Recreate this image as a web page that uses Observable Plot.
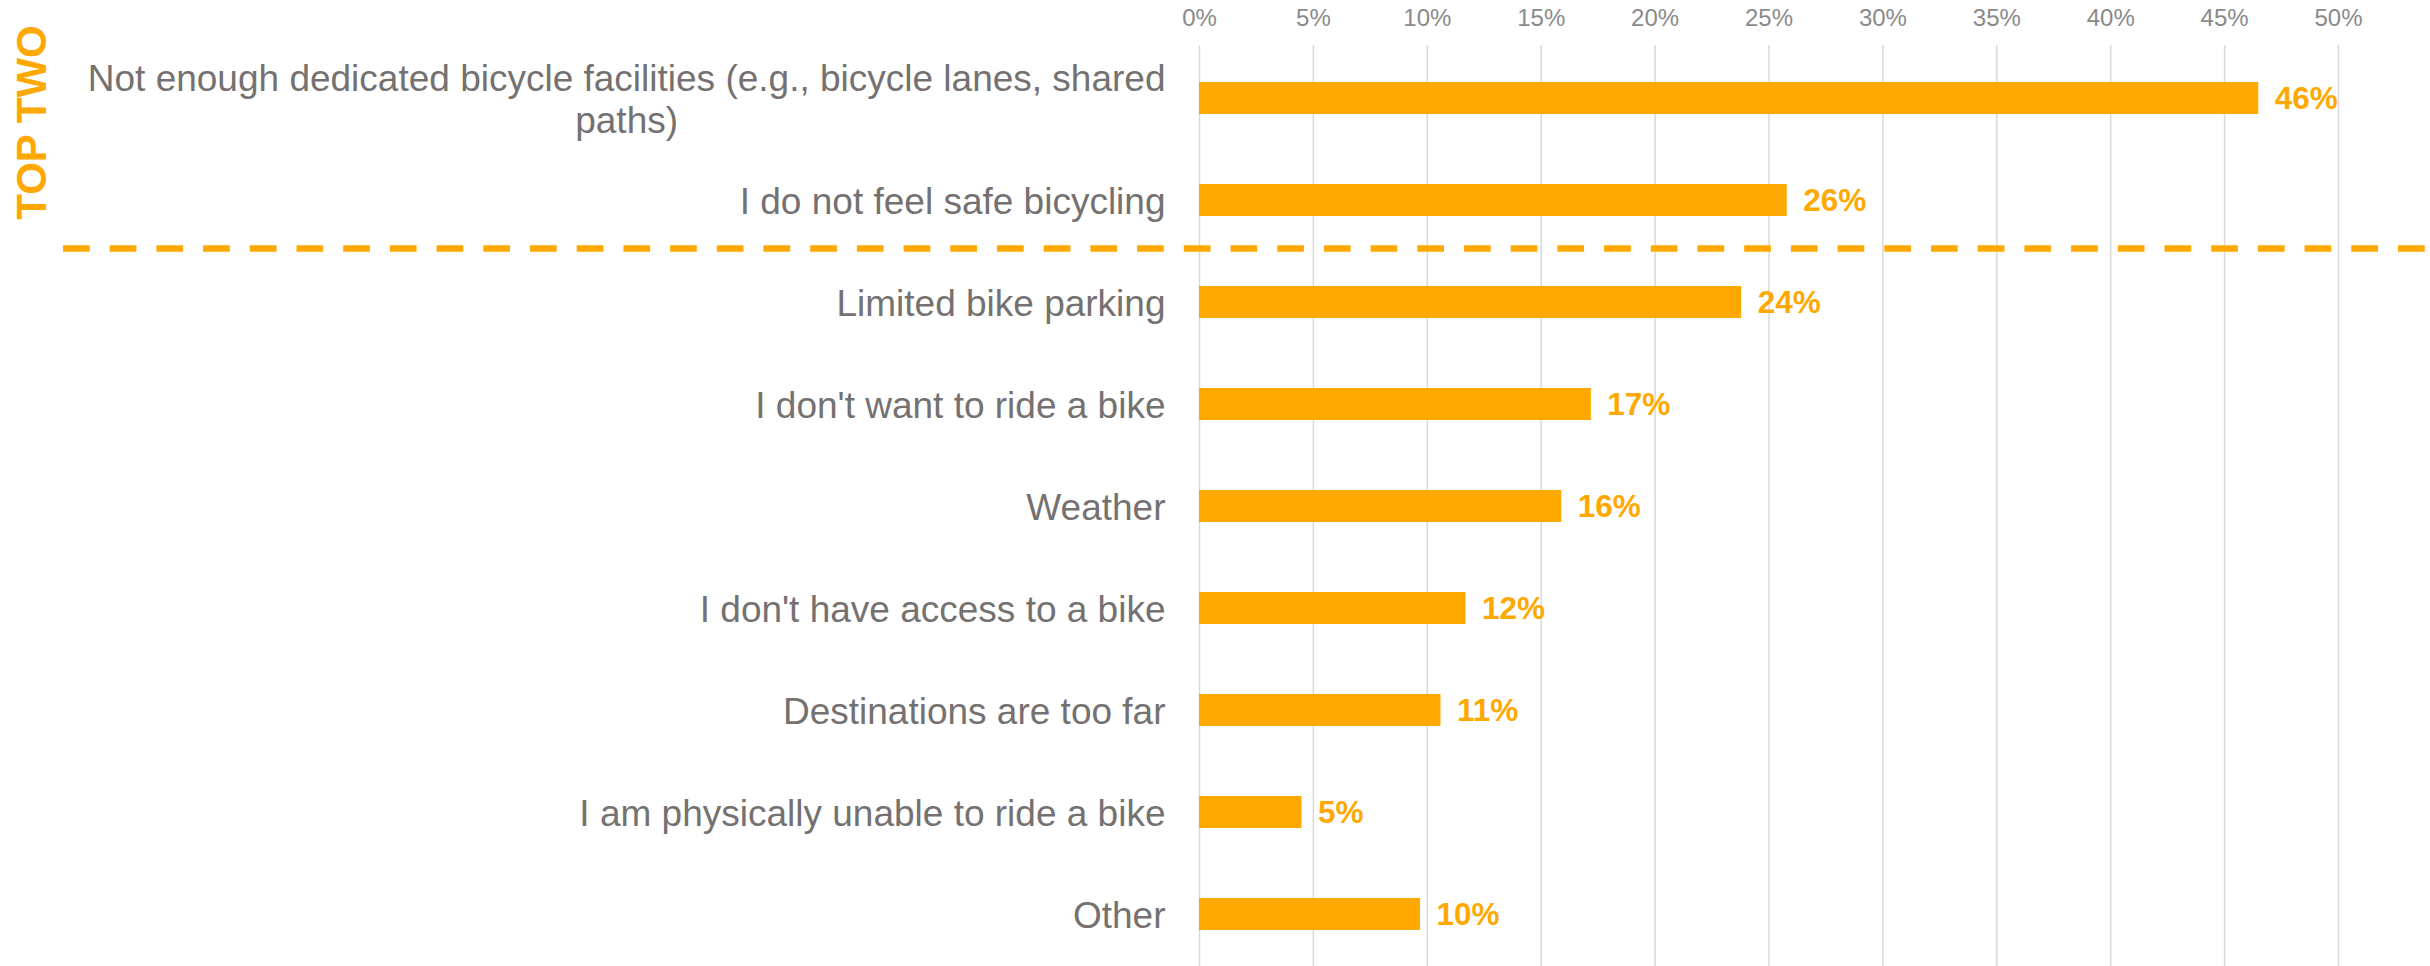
<!DOCTYPE html>
<html><head><meta charset="utf-8">
<script src="https://cdn.jsdelivr.net/npm/d3@7"></script>
<script src="https://cdn.jsdelivr.net/npm/@observablehq/plot@0.6"></script>
<style>body{margin:0;background:#fff;overflow:hidden;}</style>
</head><body><div id="chart"></div>
<script>
const categories = [
  "Not enough dedicated bicycle facilities (e.g., bicycle lanes, shared paths)",
  "I do not feel safe bicycling",
  "Limited bike parking",
  "I don't want to ride a bike",
  "Weather",
  "I don't have access to a bike",
  "Destinations are too far",
  "I am physically unable to ride a bike",
  "Other"
];
const categoryLines = {
  "Not enough dedicated bicycle facilities (e.g., bicycle lanes, shared paths)":
    "Not enough dedicated bicycle facilities (e.g., bicycle lanes, shared\npaths)"
};
const values = [46.5, 25.8, 23.8, 17.2, 15.9, 11.7, 10.6, 4.5, 9.7];
const valueLabels = ["46%", "26%", "24%", "17%", "16%", "12%", "11%", "5%", "10%"];
const xTicks = [0, 5, 10, 15, 20, 25, 30, 35, 40, 45, 50];
const groupLabel = "TOP TWO";
const groupSize = 2;

const data = categories.map((c, i) => ({category: c, value: values[i], label: valueLabels[i]}));

const W = 2430, H = 966, mt = 45, mb = 0, ml = 1199, mr = 92;
const padIn = 0.6875, padOut = 0.35;
const step = (H - mt - mb) / (categories.length - padIn + 2 * padOut);
const orange = "#ffa900";

const chart = Plot.plot({
  width: W, height: H,
  marginTop: mt, marginBottom: mb, marginLeft: ml, marginRight: mr,
  style: {fontFamily: "'Liberation Sans', Arial, sans-serif", background: "#fff"},
  x: {domain: [0, 50]},
  y: {domain: categories, paddingInner: padIn, paddingOuter: padOut},
  marks: [
    Plot.gridX(xTicks, {stroke: "#d9d9d9", strokeOpacity: 1, strokeWidth: 1.5}),
    Plot.axisX(xTicks, {anchor: "top", tickSize: 0, tickPadding: 20, fontSize: 24, color: "#8a8a8a",
      tickFormat: d => d + "%", label: null}),
    Plot.axisY({tickSize: 0, tickPadding: 34, fontSize: 37, color: "#757171", label: null,
      lineHeight: 1.15, tickFormat: d => categoryLines[d] || d}),
    Plot.barX(data, {x: "value", y: "category", fill: orange}),
    Plot.text(data, {x: "value", y: "category", text: "label", textAnchor: "start", dx: 16,
      fontSize: 31.5, fontWeight: "bold", fill: orange}),
    Plot.ruleY([categories[groupSize]], {dy: -step / 2 - 3, stroke: orange, strokeWidth: 6.5,
      strokeDasharray: "26.7,20", insetLeft: -(ml - 63), insetRight: -mr}),
    Plot.text([{label: groupLabel, cat: categories[0]}], {y: "cat", text: "label", frameAnchor: "left",
      dx: -(ml - 32), dy: 24, rotate: -90, textAnchor: "middle", fontSize: 42, fontWeight: "bold",
      fill: orange})
  ]
});
document.getElementById("chart").appendChild(chart);

// center multi-line category labels (Excel style)
chart.querySelectorAll('g[aria-label="y-axis tick label"] text').forEach(t => {
  const spans = t.querySelectorAll("tspan");
  if (spans.length > 1) {
    let maxW = 0;
    spans.forEach(s => { maxW = Math.max(maxW, s.getComputedTextLength()); });
    t.setAttribute("text-anchor", "middle");
    spans.forEach(s => s.setAttribute("x", -maxW / 2));
  }
});
</script>
</body></html>
